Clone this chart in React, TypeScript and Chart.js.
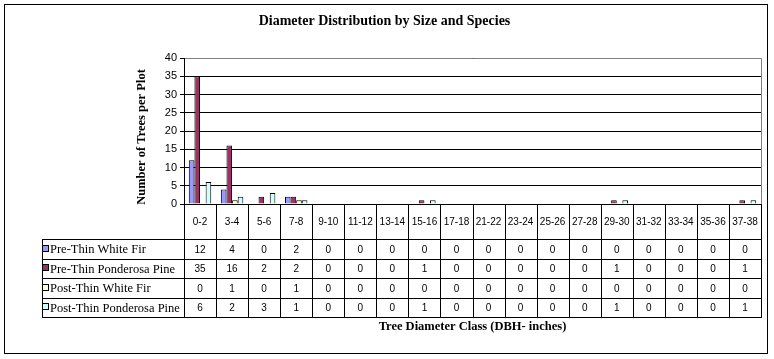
import React, { useEffect, useRef } from 'react';
import { Chart, registerables } from 'chart.js';

Chart.register(...registerables);

const chartTitle = 'Diameter Distribution by Size and Species';
const yAxisTitle = 'Number of Trees per Plot';
const xAxisTitle = 'Tree Diameter Class (DBH- inches)';

const categories = ['0-2', '3-4', '5-6', '7-8', '9-10', '11-12', '13-14', '15-16', '17-18', '21-22', '23-24', '25-26', '27-28', '29-30', '31-32', '33-34', '35-36', '37-38'];

const seriesNames = ['Pre-Thin White Fir', 'Pre-Thin Ponderosa Pine', 'Post-Thin White Fir', 'Post-Thin Ponderosa Pine'];
const seriesColors = ['#9999FF', '#993366', '#FFFFCC', '#CCFFFF'];

const preThinWhiteFir = [12, 4, 0, 2, 0, 0, 0, 0, 0, 0, 0, 0, 0, 0, 0, 0, 0, 0];
const preThinPonderosaPine = [35, 16, 2, 2, 0, 0, 0, 1, 0, 0, 0, 0, 0, 1, 0, 0, 0, 1];
const postThinWhiteFir = [0, 1, 0, 1, 0, 0, 0, 0, 0, 0, 0, 0, 0, 0, 0, 0, 0, 0];
const postThinPonderosaPine = [6, 2, 3, 1, 0, 0, 0, 1, 0, 0, 0, 0, 0, 1, 0, 0, 0, 1];

const seriesValues = [preThinWhiteFir, preThinPonderosaPine, postThinWhiteFir, postThinPonderosaPine];

const yMin = 0;
const yMax = 40;
const yStep = 5;

const SANS = '"Liberation Sans", Arial, sans-serif';
const SERIF = '"Liberation Serif", "Times New Roman", serif';

const tablePlugin = {
  id: 'excelTable',
  afterDraw(chart: any) {
    const { ctx, chartArea } = chart;
    const xs = chart.scales.x;
    const n = categories.length;
    const left = chartArea.left;
    const right = chartArea.right;
    const colW = (right - left) / n;
    const top = chartArea.bottom;
    const headerBottom = top + 35;
    const tableBottom = xs.bottom;
    const rowH = (tableBottom - headerBottom) / seriesNames.length;
    const legendLeft = 42;
    const px = (v: number) => Math.round(v) + 0.5;

    ctx.save();
    // outer chart border
    ctx.strokeStyle = '#000';
    ctx.lineWidth = 1;
    ctx.strokeRect(4.5, 4.5, 763, 349);

    // plot area gray border (top, right)
    ctx.strokeStyle = '#808080';
    ctx.beginPath();
    ctx.moveTo(left + 1, px(chartArea.top));
    ctx.lineTo(px(right), px(chartArea.top));
    ctx.lineTo(px(right), top);
    ctx.stroke();

    // table lines
    ctx.strokeStyle = '#000';
    ctx.beginPath();
    ctx.moveTo(left, px(top));
    ctx.lineTo(right + 1, px(top));
    for (let r = 0; r <= seriesNames.length; r++) {
      const y = px(headerBottom + r * rowH);
      ctx.moveTo(legendLeft, y);
      ctx.lineTo(right + 1, y);
    }
    for (let c = 0; c <= n; c++) {
      const x = px(left + c * colW);
      ctx.moveTo(x, top);
      ctx.lineTo(x, px(tableBottom));
    }
    ctx.moveTo(px(legendLeft), px(headerBottom));
    ctx.lineTo(px(legendLeft), px(tableBottom));
    ctx.stroke();

    // category labels
    ctx.fillStyle = '#000';
    ctx.font = `10px ${SANS}`;
    ctx.textAlign = 'center';
    ctx.textBaseline = 'middle';
    categories.forEach((cat, i) => {
      const cx = xs.getPixelForValue(i);
      ctx.fillText(cat, cx, (top + headerBottom) / 2 + 1);
    });

    // values
    seriesValues.forEach((vals, r) => {
      const cy = headerBottom + r * rowH + rowH / 2 + 1;
      vals.forEach((v, i) => {
        ctx.fillText(String(v), xs.getPixelForValue(i), cy);
      });
    });

    // legend keys and names
    ctx.font = `12.5px ${SERIF}`;
    ctx.textAlign = 'left';
    seriesNames.forEach((name, r) => {
      const cy = headerBottom + r * rowH + rowH / 2;
      ctx.fillStyle = seriesColors[r];
      ctx.fillRect(43, Math.round(cy) - 3, 5, 5);
      ctx.strokeStyle = '#000';
      ctx.strokeRect(42.5, Math.round(cy) - 3.5, 6, 6);
      ctx.fillStyle = '#000';
      ctx.fillText(name, 50, cy + 1);
    });

    // axis titles
    ctx.font = `bold 12.5px ${SERIF}`;
    ctx.textAlign = 'center';
    ctx.fillText(xAxisTitle, (left + right) / 2, tableBottom + 10);
    ctx.save();
    ctx.translate(142, (chartArea.top + chartArea.bottom) / 2 + 6);
    ctx.rotate(-Math.PI / 2);
    ctx.fillText(yAxisTitle, 0, 0);
    ctx.restore();

    ctx.restore();
  },
};

export default function App() {
  const canvasRef = useRef<HTMLCanvasElement | null>(null);

  useEffect(() => {
    if (!canvasRef.current) return;
    const chart = new Chart(canvasRef.current, {
      type: 'bar',
      data: {
        labels: categories,
        datasets: seriesNames.map((name, i) => ({
          label: name,
          data: seriesValues[i],
          backgroundColor: seriesColors[i],
          borderColor: '#000',
          borderWidth: 1,
          categoryPercentage: 0.7,
          barPercentage: 1,
        })),
      },
      options: {
        animation: false,
        responsive: false,
        maintainAspectRatio: false,
        devicePixelRatio: 1,
        layout: { padding: { left: 8, right: 13, top: 4, bottom: 42 } },
        plugins: {
          legend: { display: false },
          tooltip: { enabled: false },
          title: {
            display: true,
            text: chartTitle,
            color: '#000',
            font: { family: SERIF, size: 14, weight: 'bold' },
            padding: { top: 8.6, bottom: 28.6 },
          },
        },
        scales: {
          x: {
            type: 'category',
            offset: true,
            ticks: { display: false },
            grid: { display: false, drawTicks: false },
            border: { display: true, color: '#000' },
            afterFit: (scale: any) => {
              scale.height = 113;
            },
          },
          y: {
            min: yMin,
            max: yMax,
            ticks: {
              stepSize: yStep,
              color: '#000',
              font: { family: SANS, size: 11 },
              padding: 3,
            },
            grid: { color: '#000', tickLength: 4, lineWidth: 1 },
            border: { display: true, color: '#000' },
            afterFit: (scale: any) => {
              scale.width = 176;
            },
          },
        },
      },
      plugins: [tablePlugin],
    });
    return () => chart.destroy();
  }, []);

  return (
    <div style={{ position: 'fixed', left: 0, top: 0, width: 774, height: 359, background: '#fff' }}>
      <canvas ref={canvasRef} width={774} height={359} style={{ width: 774, height: 359, display: 'block' }} />
    </div>
  );
}
